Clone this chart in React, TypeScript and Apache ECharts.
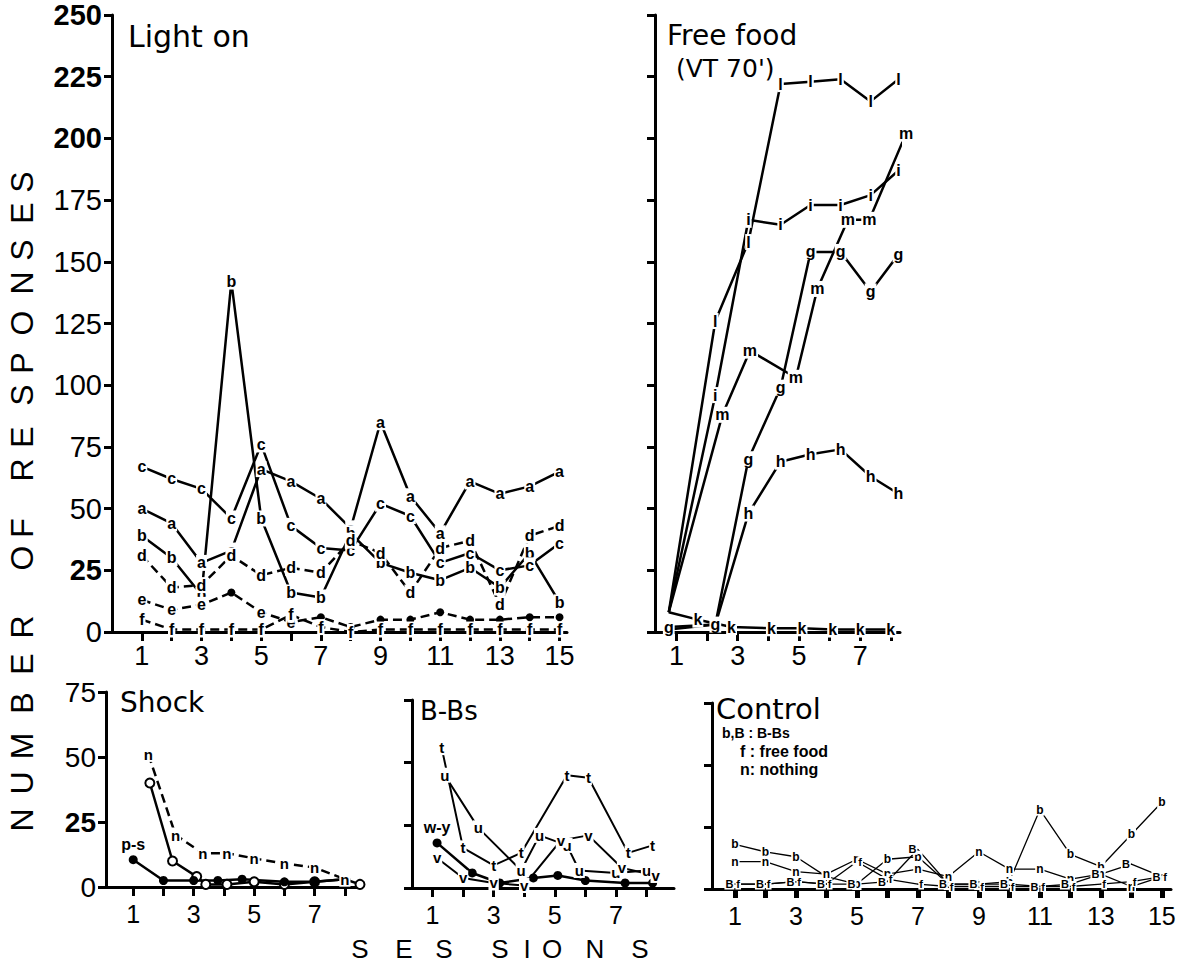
import React, { useEffect, useRef } from "react";
import * as echarts from "echarts";

// ---------------- DATA ----------------
// Light on (sessions 1..15)
const lightSessions = [1, 2, 3, 4, 5, 6, 7, 8, 9, 10, 11, 12, 13, 14, 15];
const lightA = [50, 44, 28, 33, 66, 61, 54, 42, 85, 55, 40, 61, 56, 59, 65];
const lightB = [39, 30, 15, 142, 46, 16, 14, 40, 28, 24, 21, 26, 18, 32, 12];
const lightC = [67, 62, 58, 46, 76, 43, 34, 33, 52, 47, 28, 32, 25, 27, 36];
const lightD = [31, 18, 19, 31, 23, 26, 24, 37, 32, 16, 34, 37, 11, 39, 43];
const lightE = [13, 9, 11, 16, 8, 4, 6, 2, 5, 5, 8, 5, 5, 6, 6];
const lightF = [5, 1, 1, 1, 1, 7, 2, 0, 1, 1, 1, 1, 1, 1, 1];

// Free food (VT 70')
const foodSessions = [0.75, 2.27, 3.35, 4.4, 5.38, 6.36, 7.34, 8.25];
const foodL = [8, 126, 158, 222, 223, 224, 215, 224];
const foodI = [8, 96, 167, 165, 173, 173, 177, 187];
const foodMSessions = [0.75, 2.5, 3.4, 4.9, 5.6, 6.6, 7.3, 8.5];
const foodM = [8, 88, 114, 103, 139, 167, 167, 202];
const foodG = [2, 3, 70, 99, 154, 154, 138, 153];
const foodH = [1, 3, 48, 69, 72, 74, 63, 56];
const foodKSessions = [0.75, 1.7, 2.8, 4.1, 5.1, 6.1, 7, 8];
const foodK = [8, 5, 2, 1.5, 1.5, 1, 1, 1];

// Shock
const shockNSessions = [1.5, 2.4, 3.3, 4.1, 5, 6, 7, 8];
const shockN = [51, 20, 13, 13, 11, 9, 7.5, 3];
const shockOSessions = [1.55, 2.3, 3.1, 3.4, 4.1, 5, 6, 7, 8, 8.5];
const shockO = [40, 10, 4, 1, 1, 2, 1, 2, 3, 1];
const shockPSessions = [1, 2, 3, 3.8, 4.6, 6, 7, 8];
const shockP = [10.5, 2.5, 2.5, 2.5, 3, 2, 2, 3];

// B-Bs
const bbsTSessions = [1.3, 2, 3, 3.9, 5.4, 6.1, 7.4, 8.2];
const bbsT = [56, 16, 9, 14, 45, 44, 14, 17];
const bbsUSessions = [1.4, 2.5, 3.9, 4.5, 5.4, 5.8, 7, 8];
const bbsU = [45, 24, 7, 21, 17, 7, 6, 7];
const bbsVSessions = [1.15, 2, 3, 4, 5.2, 6.1, 7.2, 8.3];
const bbsV = [12, 4, 2, 1, 19, 21, 8, 5];
const bbsWSessions = [1.15, 2.3, 3.2, 4.3, 5.1, 6, 7.3, 8.2];
const bbsW = [18, 6, 2, 4, 5, 3, 2, 2];

// Control (sessions 1..15)
const controlSessions = [1, 2, 3, 4, 5, 6, 7, 8, 9, 10, 11, 12, 13, 14, 15];
const controlb = [18, 15, 13, 5, 2, 12, 13, 2, 2, 3, 32, 14, 9, 22, 35];
const controlB = [2, 2, 3, 2, 2, 3, 16, 2, 2, 2, 1, 2, 6, 10, 5];
const controlF = [2, 2, 3, 2, 11, 4, 2, 1, 1, 1, 1, 1, 2, 3, 5];
const controlN = [11, 11, 7, 6, 12, 6, 8, 5, 15, 8, 8, 4, 6, 1, 5];

// tick / label values
const ticks15 = [1, 2, 3, 4, 5, 6, 7, 8, 9, 10, 11, 12, 13, 14, 15];
const labels15 = [1, 3, 5, 7, 9, 11, 13, 15];
const ticks8 = [1, 2, 3, 4, 5, 6, 7, 8];
const labels8 = [1, 3, 5, 7];

const FONT = "Liberation Sans, Arial, sans-serif";
const TFONT = "DejaVu Sans, Liberation Sans, sans-serif";

type SOpt = {
  grid: number;
  xs: number[];
  ys: number[];
  letter: string;
  dashed?: boolean;
  width?: number;
  fs?: number;
  dots?: number[];
  hollow?: number[];
  noLabel?: number[];
  firstLabel?: string;
  dotSize?: number;
  pos?: string;
};

function line(o: SOpt) {
  const data = o.xs.map((x, i) => {
    const isDot = !!o.dots && o.dots.includes(i);
    const isHollow = !!o.hollow && o.hollow.includes(i);
    const hide = (!!o.noLabel && o.noLabel.includes(i)) || isDot || isHollow;
    const item: any = { value: [x, o.ys[i]] };
    if (isDot) {
      item.symbol = "circle";
      item.symbolSize = o.dotSize ?? 8;
      item.itemStyle = { color: "#000" };
    } else if (isHollow) {
      item.symbol = "circle";
      item.symbolSize = o.dotSize ?? 8;
      item.itemStyle = { color: "#fff", borderColor: "#000", borderWidth: 2 };
    } else if (hide) {
      item.symbol = "none";
    } else {
      item.symbol = "circle";
      item.symbolSize = 1;
    }
    item.label = { show: !hide };
    if (i === 0 && o.firstLabel) {
      item.label = {
        show: true,
        formatter: o.firstLabel,
        position: "top",
        distance: 3,
        backgroundColor: "transparent",
      };
    }
    return item;
  });
  return {
    type: "line",
    xAxisIndex: o.grid,
    yAxisIndex: o.grid,
    data,
    clip: false,
    silent: true,
    color: "#000",
    lineStyle: { color: "#000", width: o.width ?? 2.5, type: o.dashed ? [9, 5] : "solid" },
    itemStyle: { color: "#000" },
    label: {
      show: true,
      position: o.pos ?? "inside",
      distance: 0,
      formatter: o.letter,
      color: "#000",
      fontSize: o.fs ?? 16,
      fontWeight: "bold",
      fontFamily: FONT,
      backgroundColor: "#fff",
      padding: [0, 1],
    },
    emphasis: { disabled: true },
  };
}

function xAx(grid: number, min: number, max: number, ticks: number[], labels: number[], fs: number, margin: number, tickW: number) {
  return {
    gridIndex: grid,
    type: "value",
    min,
    max,
    axisLine: { show: true, onZero: false, lineStyle: { color: "#000", width: 3 } },
    axisTick: { show: true, customValues: ticks, length: 9, lineStyle: { color: "#000", width: tickW } },
    axisLabel: { show: true, customValues: labels, fontSize: fs, color: "#000", fontFamily: FONT, margin },
    splitLine: { show: false },
  };
}

function yAx(grid: number, max: number, showLabels: boolean, bold: number[], fs: number) {
  return {
    gridIndex: grid,
    type: "value",
    min: 0,
    max,
    interval: 25,
    axisLine: { show: true, onZero: false, lineStyle: { color: "#000", width: 3 } },
    axisTick: { show: true, length: 8, lineStyle: { color: "#000", width: 3 } },
    axisLabel: {
      show: showLabels,
      margin: 10,
      color: "#000",
      formatter: (v: number) => (bold.includes(v) ? `{b|${v}}` : `{r|${v}}`),
      rich: {
        b: { fontWeight: "bold", fontSize: fs, fontFamily: FONT, color: "#000" },
        r: { fontWeight: "normal", fontSize: fs, fontFamily: FONT, color: "#000" },
      },
    },
    splitLine: { show: false },
  };
}

function txt(text: string, x: number, y: number, size: number, opts: any = {}) {
  return {
    type: "text",
    x,
    y,
    rotation: opts.rotation ?? 0,
    silent: true,
    z: 100,
    style: {
      text,
      font: `${opts.weight ?? "normal"} ${size}px ${opts.family ?? TFONT}`,
      fill: "#000",
      textAlign: opts.align ?? "left",
      textVerticalAlign: "middle",
    },
  };
}

const yTitle: [string, number][] = [
  ["N", 820], ["U", 783], ["M", 746], ["B", 703], ["E", 664], ["R", 627],
  ["O", 558], ["F", 528],
  ["R", 470], ["E", 437], ["S", 395], ["P", 363], ["O", 323], ["N", 283], ["S", 250], ["E", 213], ["S", 182],
];
const xTitle: [string, number][] = [
  ["S", 360], ["E", 404], ["S", 444], ["S", 500], ["I", 527], ["O", 552], ["N", 595], ["S", 640],
];

export default function App() {
  const ref = useRef<HTMLDivElement>(null);
  useEffect(() => {
    if (!ref.current) return;
    const chart = echarts.init(ref.current, undefined, { renderer: "svg" });
    const ePts = [3, 6, 7, 8, 9, 10, 11, 12, 13, 14];
    const option: any = {
      animation: false,
      backgroundColor: "#fff",
      grid: [
        { left: 112, top: 15, width: 455, height: 617 },
        { left: 655, top: 15, width: 245, height: 617 },
        { left: 106, top: 692, width: 254, height: 195 },
        { left: 412, top: 700, width: 262, height: 188 },
        { left: 712, top: 703, width: 459, height: 186 },
      ],
      xAxis: [
        xAx(0, 0, 15.25, ticks15, labels15, 27, 10, 3),
        xAx(1, 0.3, 8.3, ticks8, labels8, 27, 10, 3),
        xAx(2, 0.1, 8.5, ticks8, labels8, 25, 14, 3),
        xAx(3, 0.33, 8.9, ticks8, labels8, 25, 14, 3),
        xAx(4, 0.25, 15.3, ticks15, labels15, 25, 14, 5),
      ],
      yAxis: [
        yAx(0, 250, true, [250, 225, 200, 25], 29),
        yAx(1, 250, false, [], 29),
        yAx(2, 75, true, [25], 28),
        yAx(3, 75, false, [], 28),
        yAx(4, 75, false, [], 28),
      ],
      series: [
        line({ grid: 0, xs: lightSessions, ys: lightA, letter: "a" }),
        line({ grid: 0, xs: lightSessions, ys: lightB, letter: "b" }),
        line({ grid: 0, xs: lightSessions, ys: lightC, letter: "c" }),
        line({ grid: 0, xs: lightSessions, ys: lightD, letter: "d", dashed: true }),
        line({ grid: 0, xs: lightSessions, ys: lightE, letter: "e", dashed: true, dots: ePts, dotSize: 8 }),
        line({ grid: 0, xs: lightSessions, ys: lightF, letter: "f", dashed: true }),

        line({ grid: 1, xs: foodSessions, ys: foodL, letter: "l", noLabel: [0] }),
        line({ grid: 1, xs: foodSessions, ys: foodI, letter: "i", noLabel: [0] }),
        line({ grid: 1, xs: foodMSessions, ys: foodM, letter: "m", noLabel: [0] }),
        line({ grid: 1, xs: foodSessions, ys: foodG, letter: "g" }),
        line({ grid: 1, xs: foodSessions, ys: foodH, letter: "h", noLabel: [0, 1] }),
        line({ grid: 1, xs: foodKSessions, ys: foodK, letter: "k", noLabel: [0] }),

        line({ grid: 2, xs: shockNSessions, ys: shockN, letter: "n", dashed: true, fs: 15 }),
        line({ grid: 2, xs: shockOSessions, ys: shockO, letter: "o", hollow: shockO.map((_, i) => i), dotSize: 9 }),
        line({ grid: 2, xs: shockPSessions, ys: shockP, letter: "p", dots: shockP.map((_, i) => i), dotSize: 9, firstLabel: "p-s" }),

        line({ grid: 3, xs: bbsTSessions, ys: bbsT, letter: "t", width: 2, fs: 15 }),
        line({ grid: 3, xs: bbsUSessions, ys: bbsU, letter: "u", width: 2, fs: 15 }),
        line({ grid: 3, xs: bbsVSessions, ys: bbsV, letter: "v", width: 2, fs: 15 }),
        line({ grid: 3, xs: bbsWSessions, ys: bbsW, letter: "w", width: 2.5, dots: bbsW.map((_, i) => i), dotSize: 9, firstLabel: "w-y" }),

        line({ grid: 4, xs: controlSessions, ys: controlb, letter: "b", width: 1.3, fs: 12 }),
        line({ grid: 4, xs: controlSessions, ys: controlN, letter: "n", width: 1.3, fs: 12 }),
        line({ grid: 4, xs: controlSessions, ys: controlB, letter: "B", width: 1.3, fs: 11, pos: "left" }),
        line({ grid: 4, xs: controlSessions, ys: controlF, letter: "f", width: 1.3, fs: 11, pos: "right" }),
      ],
      graphic: [
        txt("Light on", 128, 36, 30),
        txt("Free food", 667, 35, 28),
        txt("(VT 70')", 676, 68, 25),
        txt("Shock", 120, 702, 28),
        txt("B-Bs", 420, 711, 26),
        txt("Control", 716, 709, 29),
        txt("b,B : B-Bs", 722, 733, 14, { weight: "bold", family: FONT }),
        txt("f : free food", 740, 751, 16, { weight: "bold", family: FONT }),
        txt("n: nothing", 740, 769, 16, { weight: "bold", family: FONT }),
        ...yTitle.map(([ch, y]) => txt(ch, 22, y, 32, { rotation: Math.PI / 2, align: "center", family: FONT })),
        ...xTitle.map(([ch, x]) => txt(ch, x, 949, 26, { align: "center", family: FONT })),
      ],
    };
    chart.setOption(option);
    return () => chart.dispose();
  }, []);
  return (
    <div
      ref={ref}
      style={{ position: "absolute", left: 0, top: 0, width: 1189, height: 964, background: "#fff" }}
    />
  );
}
